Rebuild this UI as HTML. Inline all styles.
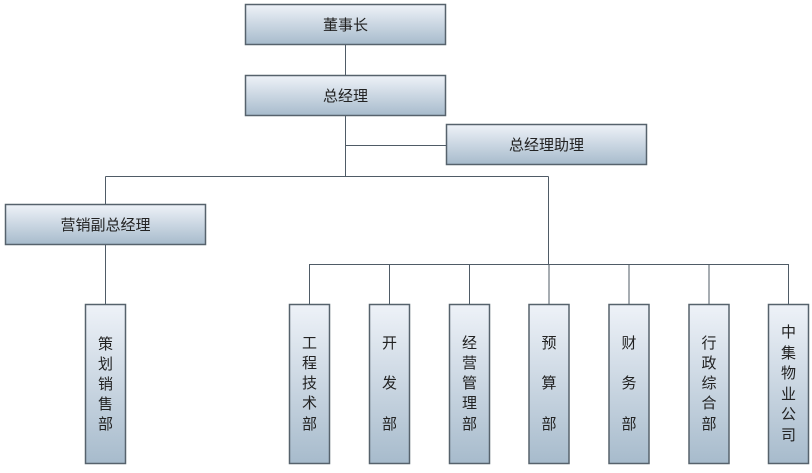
<!DOCTYPE html>
<html><head><meta charset="utf-8"><style>
html,body{margin:0;padding:0;background:#fff;}
svg text{font-family:"Liberation Sans","Noto Sans CJK SC",sans-serif;font-size:15px;fill:#222;}
</style></head><body>
<svg width="812" height="468" viewBox="0 0 812 468" xmlns="http://www.w3.org/2000/svg">
<defs><linearGradient id="g" x1="0" y1="0" x2="0" y2="1"><stop offset="0" stop-color="#eef2f8"/><stop offset="1" stop-color="#a7bbcc"/></linearGradient></defs>
<g stroke="#4f5b66" stroke-width="1" fill="none">
<path d="M345.5 44V75M345.5 115V176.5M345.5 145.5H446M105.5 176.5H548.5M105.5 176.5V204M548.5 176.5V264.5M105.5 244V304M309.5 264.5H788.5"/>
<path d="M309.5 264V304M389.5 264V304M469.5 264V304M549 264V304M629 264V304M709 264V304M788.5 264V304"/>
</g>
<g fill="url(#g)" stroke="#56626c" stroke-width="1.5">
<rect x="245.5" y="4.5" width="200" height="40"/>
<rect x="245.5" y="75.5" width="200" height="40"/>
<rect x="446.5" y="124.5" width="200" height="40"/>
<rect x="5.5" y="204.5" width="200" height="40"/>
<rect x="85.5" y="304.5" width="40" height="159"/>
<rect x="289.5" y="304.5" width="40" height="159"/>
<rect x="369.5" y="304.5" width="40" height="159"/>
<rect x="449.5" y="304.5" width="40" height="159"/>
<rect x="529" y="304.5" width="40" height="159"/>
<rect x="609" y="304.5" width="40" height="159"/>
<rect x="689" y="304.5" width="40" height="159"/>
<rect x="768.5" y="304.5" width="40" height="159"/>
</g>
<g text-anchor="middle">
<text x="345.5" y="30">董事长</text>
<text x="345.5" y="101">总经理</text>
<text x="546.5" y="150">总经理助理</text>
<text x="105.5" y="230">营销副总经理</text>
</g>
<g text-anchor="middle">
<text x="105.5" y="349">策</text><text x="105.5" y="369">划</text><text x="105.5" y="389">销</text><text x="105.5" y="409">售</text><text x="105.5" y="429">部</text>
<text x="309.5" y="348">工</text><text x="309.5" y="368">程</text><text x="309.5" y="388">技</text><text x="309.5" y="408">术</text><text x="309.5" y="429">部</text>
<text x="389.5" y="348">开</text><text x="389.5" y="388">发</text><text x="389.5" y="429">部</text>
<text x="469.5" y="348">经</text><text x="469.5" y="368">营</text><text x="469.5" y="388">管</text><text x="469.5" y="408">理</text><text x="469.5" y="429">部</text>
<text x="549" y="348">预</text><text x="549" y="388">算</text><text x="549" y="429">部</text>
<text x="629" y="348">财</text><text x="629" y="388">务</text><text x="629" y="429">部</text>
<text x="709" y="348">行</text><text x="709" y="368">政</text><text x="709" y="388">综</text><text x="709" y="408">合</text><text x="709" y="429">部</text>
<text x="788.5" y="337">中</text><text x="788.5" y="358">集</text><text x="788.5" y="378">物</text><text x="788.5" y="399">业</text><text x="788.5" y="419">公</text><text x="788.5" y="440">司</text>
</g>
</svg>
</body></html>
